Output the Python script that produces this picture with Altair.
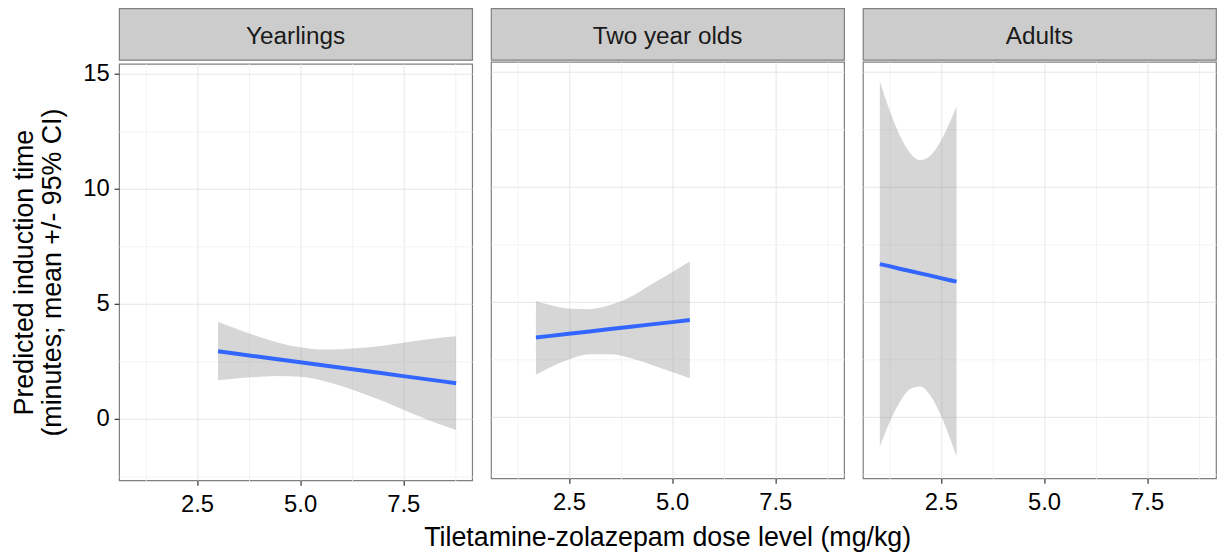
import altair as alt
import pandas as pd

# ---------------- data ----------------
panels = ["Yearlings", "Two year olds", "Adults"]

yr_dose = [3.01, 3.5, 4.0, 4.5, 5.0, 5.5, 6.0, 6.5, 7.0, 7.5, 8.0, 8.5, 8.78]
yr_fit = [2.94, 2.82, 2.70, 2.58, 2.46, 2.34, 2.22, 2.10, 1.98, 1.86, 1.74, 1.62, 1.55]
yr_lo = [1.68, 1.77, 1.83, 1.86, 1.83, 1.68, 1.43, 1.12, 0.78, 0.40, 0.03, -0.31, -0.48]
yr_hi = [4.22, 3.88, 3.57, 3.30, 3.11, 3.02, 3.03, 3.09, 3.18, 3.31, 3.44, 3.55, 3.59]

two_dose = [1.70, 2.0, 2.5, 3.0, 3.5, 4.0, 4.5, 5.0, 5.43]
two_fit = [3.45, 3.51, 3.61, 3.71, 3.82, 3.92, 4.02, 4.12, 4.21]
two_lo = [1.84, 2.12, 2.50, 2.72, 2.72, 2.55, 2.27, 1.95, 1.68]
two_hi = [5.04, 4.88, 4.70, 4.68, 4.86, 5.22, 5.77, 6.29, 6.75]

ad_dose = [1.02, 1.25, 1.5, 1.75, 2.0, 2.25, 2.5, 2.75, 2.88]
ad_fit = [6.64, 6.55, 6.44, 6.34, 6.24, 6.14, 6.03, 5.93, 5.88]
ad_lo = [-1.29, -0.26, 0.63, 1.20, 1.32, 0.92, 0.07, -1.07, -1.73]
ad_hi = [14.57, 13.36, 12.25, 11.48, 11.16, 11.36, 11.99, 12.93, 13.49]

x_major = [2.5, 5.0, 7.5]
x_minor = [1.25, 3.75, 6.25, 8.75]
y_major = [0, 5, 10, 15]
y_minor = [-2.5, 2.5, 7.5, 12.5]

x_domain = [0.611, 9.169]
y_domain = [-2.67, 15.43]

x_title = "Tiletamine-zolazepam dose level (mg/kg)"
y_title = ["Predicted induction time", "(minutes; mean +/- 95% CI)"]

# ---------------- styling ----------------
FONT = "Liberation Sans"
PW, PH, SH = 356, 420, 52
BORDER = "#7F7F7F"


def grid_color(step):
    return {"condition": {"test": f"datum.value % {step} != 0", "value": "#F3F3F3"},
            "value": "#E6E6E6"}


def tick_opacity(step):
    return {"condition": {"test": f"datum.value % {step} != 0", "value": 0}, "value": 1}


def panel(name, dose, fit, lo, hi, first):
    df = pd.DataFrame({"dose": dose, "fit": fit, "lo": lo, "hi": hi})

    x_axis = alt.Axis(
        values=x_minor + x_major, title=None, domain=False,
        labelExpr="datum.value % 2.5 == 0 ? format(datum.value, '.1f') : ''",
        labelFont=FONT, labelFontSize=24, labelColor="#000000", labelPadding=7,
        labelOverlap=False, labelFlush=False,
        tickSize=5, tickColor="#333333", tickWidth=1.2, tickOpacity=tick_opacity(2.5),
        grid=True, gridColor=grid_color(2.5), gridWidth=1,
    )
    if first:
        y_axis = alt.Axis(
            values=y_minor + y_major, title=y_title, domain=False,
            labelExpr="datum.value % 5 == 0 ? format(datum.value, 'd') : ''",
            labelFont=FONT, labelFontSize=24, labelColor="#000000", labelPadding=5,
            labelOverlap=False, labelFlush=False,
            tickSize=5, tickColor="#333333", tickWidth=1.2, tickOpacity=tick_opacity(5),
            grid=True, gridColor=grid_color(5), gridWidth=1,
            titleFont=FONT, titleFontSize=27, titleFontWeight="normal",
            titleColor="#000000", titlePadding=16, titleLineHeight=29,
        )
    else:
        y_axis = alt.Axis(
            values=y_minor + y_major, title=None, domain=False,
            labels=False, ticks=False, minExtent=0, maxExtent=0,
            grid=True, gridColor=grid_color(5), gridWidth=1,
        )

    xs = alt.Scale(domain=x_domain, nice=False, zero=False)
    ys = alt.Scale(domain=y_domain, nice=False, zero=False)

    base = alt.Chart(df)
    band = base.mark_area(color="#999999", opacity=0.4, interpolate="monotone").encode(
        x=alt.X("dose:Q", scale=xs, axis=x_axis),
        y=alt.Y("lo:Q", scale=ys, axis=y_axis),
        y2="hi:Q",
    )
    line = base.mark_line(color="#3366FF", strokeWidth=4).encode(
        x=alt.X("dose:Q", scale=xs),
        y=alt.Y("fit:Q", scale=ys),
    )
    plot = alt.layer(band, line).properties(
        width=PW, height=PH,
        view=alt.ViewBackground(fill="white", stroke=BORDER, strokeWidth=1.2),
    )

    strip = alt.Chart(pd.DataFrame({"label": [name]})).mark_text(
        font=FONT, fontSize=24.5, color="#1A1A1A", baseline="middle", dy=3
    ).encode(text="label:N").properties(
        width=PW, height=SH,
        view=alt.ViewBackground(fill="#CCCCCC", stroke=BORDER, strokeWidth=1.2),
    )
    return alt.vconcat(strip, plot, spacing=0)


chart = alt.hconcat(
    panel(panels[0], yr_dose, yr_fit, yr_lo, yr_hi, True),
    panel(panels[1], two_dose, two_fit, two_lo, two_hi, False),
    panel(panels[2], ad_dose, ad_fit, ad_lo, ad_hi, False),
    spacing=17,
).properties(
    padding={"left": 1, "top": -3, "right": 0, "bottom": 0},
    title=alt.TitleParams(
        text=x_title, orient="bottom", anchor="middle", offset=9, dx=55,
        font=FONT, fontSize=27, fontWeight="normal", color="#000000",
    ),
).configure_view(stroke=None)

chart.save("out.html", embed_options={"renderer": "svg", "actions": False})
